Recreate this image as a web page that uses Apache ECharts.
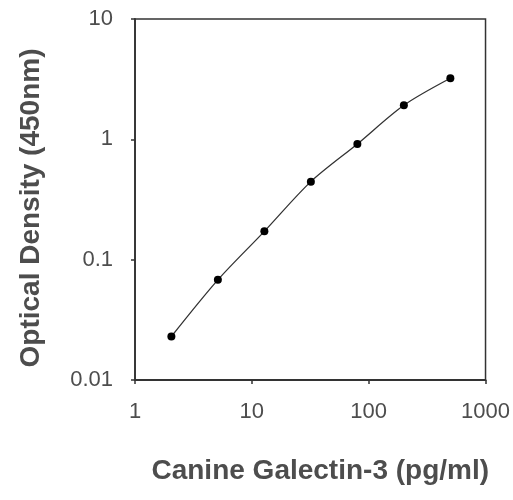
<!DOCTYPE html>
<html><head><meta charset="utf-8">
<script src="https://cdn.jsdelivr.net/npm/echarts@6/dist/echarts.min.js"></script>
<style>html,body{margin:0;padding:0;background:#fff}#c{width:513px;height:500px}</style>
</head><body><div id="c"></div>
<script>
const concentrations = [2.048, 5.12, 12.8, 32, 80, 200, 500];
const opticalDensity = [0.023, 0.068, 0.172, 0.445, 0.915, 1.92, 3.22];
const xTitle = 'Canine Galectin-3 (pg/ml)';
const yTitle = 'Optical Density (450nm)';

const chart = echarts.init(document.getElementById('c'));
const txt = '#4d4d4d';
chart.setOption({
  animation: false,
  backgroundColor: '#fff',
  grid: {left: 135, right: 26, top: 19, bottom: 120, show: true, borderColor: '#333', borderWidth: 1.5, backgroundColor: 'transparent'},
  xAxis: {
    type: 'log', logBase: 10, min: 1, max: 1000,
    name: xTitle, nameLocation: 'middle', nameGap: 77,
    nameTextStyle: {fontFamily: 'Liberation Sans', fontWeight: 'bold', fontSize: 28, color: txt, padding: [0, 0, 0, 20]},
    axisLine: {lineStyle: {color: '#333', width: 1.8}},
    axisTick: {show: true, length: 4, lineStyle: {color: '#333', width: 1.5}},
    minorTick: {show: false},
    splitLine: {show: false},
    axisLabel: {fontFamily: 'Liberation Sans', fontSize: 22, color: txt, margin: 21, formatter: v => String(v)}
  },
  yAxis: {
    type: 'log', logBase: 10, min: 0.01, max: 10,
    name: yTitle, nameLocation: 'middle', nameGap: 90, nameRotate: 90,
    nameTextStyle: {fontFamily: 'Liberation Sans', fontWeight: 'bold', fontSize: 28, color: txt, padding: [0, 17, 0, 0]},
    axisLine: {lineStyle: {color: '#333', width: 1.8}},
    axisTick: {show: true, length: 4, lineStyle: {color: '#333', width: 1.5}},
    splitLine: {show: false},
    axisLabel: {fontFamily: 'Liberation Sans', fontSize: 22, color: txt, margin: 22, formatter: v => String(+v.toPrecision(3))}
  },
  series: [{
    type: 'line', smooth: 0.3,
    data: concentrations.map((x, i) => [x, opticalDensity[i]]),
    symbol: 'circle', symbolSize: 8,
    itemStyle: {color: '#000'},
    lineStyle: {color: '#333', width: 1.3}
  }]
});
</script></body></html>
